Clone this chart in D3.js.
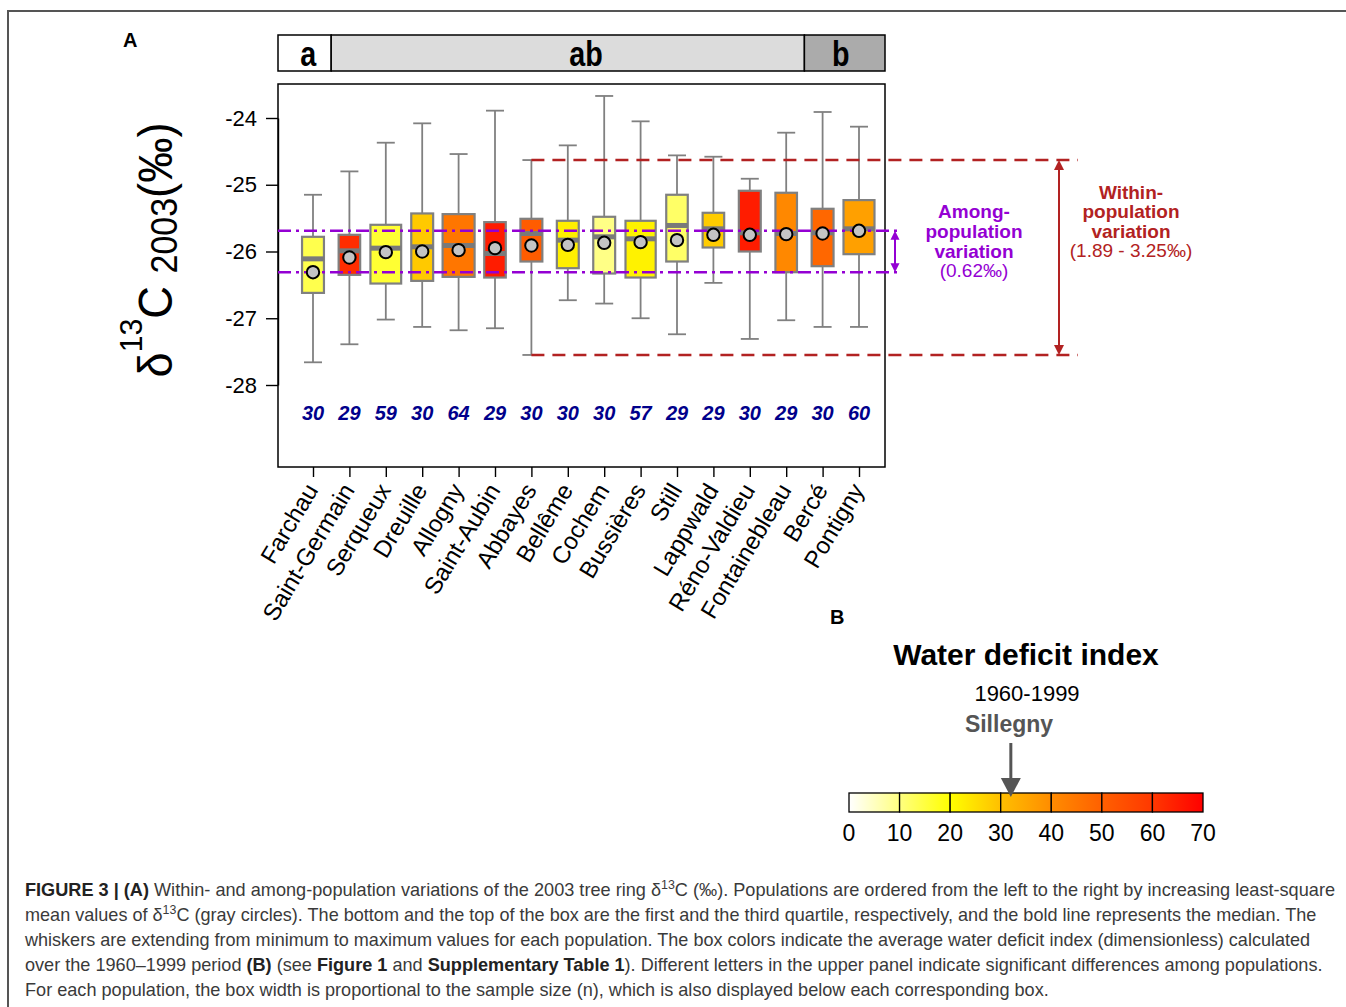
<!DOCTYPE html>
<html><head><meta charset="utf-8">
<script src="https://cdn.jsdelivr.net/npm/d3@7"></script>
<style>body{margin:0;background:#fff} svg{display:block}</style>
</head><body>
<svg id="c" width="1346" height="1007"></svg>
<script>
// ---------- data ----------
const populations = ["Farchau","Saint-Germain","Serqueux","Dreuille","Allogny","Saint-Aubin","Abbayes","Bellême","Cochem","Bussières","Still","Lappwald","Réno-Valdieu","Fontainebleau","Bercé","Pontigny"];
const sampleSizes = [30,29,59,30,64,29,30,30,30,57,29,29,30,29,30,60];
const whiskerMax = [-25.15,-24.80,-24.37,-24.08,-24.54,-23.89,-24.63,-24.41,-23.67,-24.05,-24.56,-24.58,-24.91,-24.22,-23.91,-24.13];
const q3         = [-25.78,-25.75,-25.60,-25.43,-25.44,-25.56,-25.51,-25.54,-25.48,-25.54,-25.15,-25.42,-25.09,-25.12,-25.36,-25.23];
const medians    = [-26.11,-25.99,-25.95,-25.93,-25.91,-26.03,-25.73,-25.83,-25.78,-25.81,-25.61,-25.66,-25.72,-25.73,-25.72,-25.66];
const q1         = [-26.62,-26.35,-26.48,-26.44,-26.38,-26.39,-26.15,-26.25,-26.33,-26.39,-26.15,-25.94,-26.00,-26.31,-26.22,-26.04];
const whiskerMin = [-27.66,-27.39,-27.02,-27.13,-27.18,-27.15,-27.55,-26.73,-26.78,-27.00,-27.24,-26.47,-27.31,-27.03,-27.13,-27.13];
const means      = [-26.31,-26.09,-26.01,-26.00,-25.98,-25.95,-25.91,-25.90,-25.87,-25.86,-25.83,-25.75,-25.75,-25.74,-25.73,-25.69];
const waterDeficit = [14,62,16,28.5,45,65,51,22.5,9.5,22,12,28,65,41,48.5,36];
const letterLabels = ["a","ab","b"];
const letterFrom = [1,2,15];
const letterTo = [1,14,16];
const yTicks = [-24,-25,-26,-27,-28];
const legendTicks = [0,10,20,30,40,50,60,70];
const sillegnyIndex = 32;
const withinRefPop = 6; // Abbayes (index) used for within-population range lines

// ---------- setup ----------
const svg = d3.select("#c");
const FONT = "'Liberation Sans', Arial, sans-serif";
const plot = {left:278, right:885, top:84, bottom:467};
const x = d3.scaleLinear().domain([1,16]).range([313,859]);
const y = d3.scaleLinear().domain([-28,-24]).range([385,118]);
const maxN = d3.max(sampleSizes);
const boxW = n => 32*Math.sqrt(n/maxN);
const color = d3.scaleLinear().domain(legendTicks)
  .range(["#ffffff","#ffff80","#ffff00","#ffbf00","#ff8c00","#ff6000","#ff3800","#ff0000"]);
const purple = "#9400d3", red = "#b22222", grey = "#808080";

// outer figure frame
svg.append("path").attr("d","M8,1007 L8,11 L1346,11").attr("fill","none").attr("stroke","#555").attr("stroke-width",2);

// panel labels
svg.append("text").attr("x",123).attr("y",47).text("A").attr("font-family",FONT).attr("font-weight","bold").attr("font-size",20);
svg.append("text").attr("x",830).attr("y",624).text("B").attr("font-family",FONT).attr("font-weight","bold").attr("font-size",20);

// letter bar
const letterFill = ["#ffffff","#dcdcdc","#ababab"];
const letterTextPos = [0.87, 8.5, 15.5]; // layout: where each letter is written (axis units)
letterLabels.forEach((l,i)=>{
  const x0 = i===0 ? plot.left : x(letterFrom[i]-0.5);
  const x1 = i===letterLabels.length-1 ? plot.right : x(letterTo[i]+0.5);
  svg.append("rect").attr("x",x0).attr("y",35).attr("width",x1-x0).attr("height",36)
    .attr("fill",letterFill[i]).attr("stroke","#000").attr("stroke-width",1.5);
  svg.append("text").attr("transform",`translate(${x(letterTextPos[i])},66) scale(0.82,1)`).attr("text-anchor","middle")
    .attr("font-family",FONT).attr("font-weight","bold").attr("font-size",35).text(l);
});

// plot frame
svg.append("rect").attr("x",plot.left).attr("y",plot.top).attr("width",plot.right-plot.left).attr("height",plot.bottom-plot.top)
  .attr("fill","none").attr("stroke","#000").attr("stroke-width",1.5);

// y axis
const yAxis = svg.append("g").attr("transform",`translate(${plot.left},0)`)
  .call(d3.axisLeft(y).tickValues(yTicks).tickSize(12).tickSizeOuter(0).tickPadding(9).tickFormat(d=>d));
yAxis.selectAll("path,line").attr("stroke","#000").attr("stroke-width",1.4);
yAxis.selectAll("text").attr("font-family",FONT).attr("font-size",22).attr("fill","#000");

// x axis ticks
const xAxis = svg.append("g").attr("transform",`translate(0,${plot.bottom})`)
  .call(d3.axisBottom(x).tickValues(d3.range(1,17)).tickSize(10).tickFormat(""));
xAxis.select(".domain").remove();
xAxis.selectAll("line").attr("stroke","#000").attr("stroke-width",1.4);

// x labels
populations.forEach((p,i)=>{
  svg.append("text").attr("transform",`translate(${x(i+1)+6},${plot.bottom+23}) rotate(-59)`)
    .attr("text-anchor","end").attr("font-family",FONT).attr("font-size",24).text(p);
});

// y axis title
const yt = svg.append("text").attr("transform","translate(172,250) rotate(-90)")
  .attr("text-anchor","middle").attr("font-family",FONT).attr("font-size",48)
  .attr("textLength",255).attr("lengthAdjust","spacingAndGlyphs");
yt.append("tspan").text("δ");
yt.append("tspan").attr("font-size",32).attr("dy",-30).text("13");
yt.append("tspan").attr("dy",30).text("C ");
yt.append("tspan").attr("font-size",36).attr("dy",5).text("2003");
yt.append("tspan").attr("dy",-5).text("(‰)");

// boxes
const g = svg.append("g");
populations.forEach((p,i)=>{
  const cx = x(i+1), w = boxW(sampleSizes[i]);
  g.append("line").attr("x1",cx).attr("x2",cx).attr("y1",y(whiskerMax[i])).attr("y2",y(whiskerMin[i]))
    .attr("stroke",grey).attr("stroke-width",1.8);
  [whiskerMax[i],whiskerMin[i]].forEach(v=>g.append("line").attr("x1",cx-9).attr("x2",cx+9).attr("y1",y(v)).attr("y2",y(v))
    .attr("stroke",grey).attr("stroke-width",1.8));
  g.append("rect").attr("x",cx-w/2).attr("y",y(q3[i])).attr("width",w).attr("height",y(q1[i])-y(q3[i]))
    .attr("fill",color(waterDeficit[i])).attr("stroke",grey).attr("stroke-width",2.2);
  g.append("line").attr("x1",cx-w/2).attr("x2",cx+w/2).attr("y1",y(medians[i])).attr("y2",y(medians[i]))
    .attr("stroke","#7a7a7a").attr("stroke-width",5);
  g.append("text").attr("x",cx).attr("y",420).attr("text-anchor","middle").attr("font-family",FONT)
    .attr("font-weight","bold").attr("font-style","italic").attr("font-size",20).attr("fill","#00008b").text(sampleSizes[i]);
});

// among-population lines (min/max of means)
const mMin = d3.min(means), mMax = d3.max(means);
[mMax,mMin].forEach(v=>svg.append("line").attr("x1",plot.left).attr("x2",898).attr("y1",y(v)).attr("y2",y(v))
  .attr("stroke",purple).attr("stroke-width",2.5).attr("stroke-dasharray","13,5,3,5"));
// within-population lines (Abbayes whisker extremes)
const wTop = whiskerMax[withinRefPop], wBot = whiskerMin[withinRefPop];
[wTop,wBot].forEach(v=>svg.append("line").attr("x1",x(withinRefPop+1)).attr("x2",1078).attr("y1",y(v)).attr("y2",y(v))
  .attr("stroke",red).attr("stroke-width",2.5).attr("stroke-dasharray","13,8"));

// mean circles
populations.forEach((p,i)=>{
  svg.append("circle").attr("cx",x(i+1)).attr("cy",y(means[i])).attr("r",6.2)
    .attr("fill","#c4c4c4").attr("stroke","#000").attr("stroke-width",2);
});

// double arrows
function dblArrow(xp,y1,y2,col,hw,hl,sw){
  svg.append("line").attr("x1",xp).attr("x2",xp).attr("y1",y1+hl*0.6).attr("y2",y2-hl*0.6).attr("stroke",col).attr("stroke-width",sw);
  svg.append("path").attr("d",`M${xp},${y1} L${xp-hw},${y1+hl} L${xp+hw},${y1+hl} Z`).attr("fill",col);
  svg.append("path").attr("d",`M${xp},${y2} L${xp-hw},${y2-hl} L${xp+hw},${y2-hl} Z`).attr("fill",col);
}
dblArrow(895,y(mMax),y(mMin),purple,4.5,9,2);
dblArrow(1059,y(wTop),y(wBot),red,5,10,2);

// annotation texts
function lines(cx, ys, arr, col){
  arr.forEach((t,i)=>svg.append("text").attr("x",cx).attr("y",ys[i]).attr("text-anchor","middle")
    .attr("font-family",FONT).attr("font-size",19).attr("font-weight",i<3?"bold":"normal").attr("fill",col).text(t));
}
lines(974,[218,238,258,277],["Among-","population","variation",`(${(mMax-mMin).toFixed(2)}‰)`],purple);
lines(1131,[199,218,238,257],["Within-","population","variation","(1.89 - 3.25‰)"],red);

// ---------- legend B ----------
svg.append("text").attr("x",1026).attr("y",665).attr("text-anchor","middle").attr("font-family",FONT)
  .attr("font-weight","bold").attr("font-size",30).text("Water deficit index");
svg.append("text").attr("x",1027).attr("y",701).attr("text-anchor","middle").attr("font-family",FONT)
  .attr("font-size",22).text("1960-1999");
svg.append("text").attr("x",1009).attr("y",732).attr("text-anchor","middle").attr("font-family",FONT)
  .attr("font-weight","bold").attr("font-size",23).attr("fill","#555").text("Sillegny");
const lx = d3.scaleLinear().domain([0,70]).range([849,1203]);
const defs = svg.append("defs");
legendTicks.slice(0,-1).forEach((t,i)=>{
  const id = "gr"+i;
  const gr = defs.append("linearGradient").attr("id",id);
  [0,0.5,1].forEach(f=>gr.append("stop").attr("offset",f).attr("stop-color",color(t+10*f)));
  svg.append("rect").attr("x",lx(t)).attr("y",793).attr("width",lx(t+10)-lx(t)).attr("height",19)
    .attr("fill",`url(#${id})`).attr("stroke","#000").attr("stroke-width",1.3);
});
legendTicks.forEach(t=>svg.append("text").attr("x",lx(t)).attr("y",841).attr("text-anchor","middle")
  .attr("font-family",FONT).attr("font-size",23).text(t));
const ax = lx(sillegnyIndex);
svg.append("line").attr("x1",ax).attr("x2",ax).attr("y1",743).attr("y2",782).attr("stroke","#555").attr("stroke-width",3);
svg.append("path").attr("d",`M${ax},797 L${ax-10},778 L${ax+10},778 Z`).attr("fill","#555");

// ---------- caption ----------
const captionLines = [
  [["FIGURE 3 | (A)","b"],[" Within- and among-population variations of the 2003 tree ring δ"],["13","sup"],["C (‰). Populations are ordered from the left to the right by increasing least-square"]],
  [["mean values of δ"],["13","sup"],["C (gray circles). The bottom and the top of the box are the first and the third quartile, respectively, and the bold line represents the median. The"]],
  [["whiskers are extending from minimum to maximum values for each population. The box colors indicate the average water deficit index (dimensionless) calculated"]],
  [["over the 1960–1999 period "],["(B)","b"],[" (see "],["Figure 1","b"],[" and "],["Supplementary Table 1","b"],["). Different letters in the upper panel indicate significant differences among populations."]],
  [["For each population, the box width is proportional to the sample size (n), which is also displayed below each corresponding box."]]
];
const captionEnds = [1336,1317,1311,1324,1050];
captionLines.forEach((segs,li)=>{
  const t = svg.append("text").attr("x",0).attr("y",0).attr("font-family",FONT)
    .attr("font-size",17.5).attr("fill","#3a3a3a");
  let shifted = false;
  segs.forEach(([s,st])=>{
    const ts = t.append("tspan").text(s);
    if(st==="b") ts.attr("font-weight","bold").attr("fill","#222");
    if(st==="sup"){ ts.attr("font-size",12).attr("dy",-7); shifted=true; }
    else if(shifted){ ts.attr("dy",7); shifted=false; }
  });
  const natural = t.node().getComputedTextLength();
  const k = (captionEnds[li]-25)/natural;
  t.attr("transform",`translate(25,${896+li*25}) scale(${k},1)`);
});
</script>
</body></html>
